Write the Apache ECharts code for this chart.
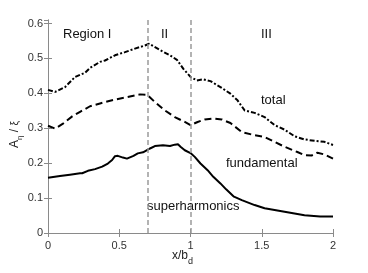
<!DOCTYPE html>
<html><head><meta charset="utf-8">
<script src="https://cdn.jsdelivr.net/npm/echarts@6/dist/echarts.min.js"></script>
<style>html,body{margin:0;padding:0;background:#fff}#c{width:368px;height:273px}</style>
</head><body><div id="c"></div>
<script>
var totalX = [0,0.05,0.12,0.19,0.26,0.295,0.365,0.4,0.47,0.54,0.61,0.68,0.71,0.79,0.856,0.905,0.95,1.0,1.045,1.09,1.14,1.21,1.28,1.33,1.38,1.45,1.52,1.59,1.66,1.73,1.80,1.87,1.94,2.0];
var totalY = [0.41,0.404,0.418,0.447,0.459,0.473,0.49,0.494,0.509,0.518,0.528,0.537,0.542,0.523,0.509,0.496,0.47,0.447,0.437,0.44,0.435,0.418,0.399,0.38,0.351,0.344,0.332,0.309,0.296,0.277,0.268,0.264,0.261,0.252];
var fundX = [0,0.05,0.105,0.17,0.225,0.295,0.365,0.4,0.47,0.54,0.61,0.646,0.695,0.75,0.82,0.89,0.96,1.0,1.05,1.10,1.16,1.22,1.28,1.36,1.45,1.52,1.59,1.66,1.75,1.80,1.85,1.89,1.94,2.0];
var fundY = [0.307,0.299,0.313,0.334,0.347,0.363,0.371,0.375,0.382,0.388,0.394,0.397,0.396,0.375,0.351,0.332,0.318,0.309,0.318,0.325,0.328,0.325,0.315,0.289,0.28,0.275,0.261,0.247,0.232,0.223,0.222,0.23,0.225,0.213];
var superX = [0,0.084,0.154,0.225,0.24,0.28,0.33,0.38,0.42,0.45,0.47,0.49,0.526,0.554,0.6,0.63,0.667,0.68,0.716,0.75,0.807,0.856,0.89,0.912,0.93,0.96,1.0,1.03,1.07,1.12,1.16,1.21,1.25,1.305,1.36,1.45,1.52,1.66,1.8,1.91,2.0];
var superY = [0.158,0.163,0.167,0.171,0.171,0.178,0.183,0.19,0.199,0.209,0.22,0.221,0.216,0.213,0.221,0.228,0.231,0.232,0.242,0.249,0.251,0.249,0.253,0.254,0.247,0.237,0.229,0.218,0.199,0.18,0.161,0.142,0.125,0.104,0.094,0.08,0.071,0.061,0.051,0.047,0.047];
var regionLines = [0.7, 1.0];
var xTicks = [0, 0.5, 1, 1.5, 2];
var yTicks = [0, 0.1, 0.2, 0.3, 0.4, 0.5, 0.6];

function zip(a, b) { return a.map(function (v, i) { return [v, b[i]]; }); }
var axisGray = '#8a8a8a';
var font = 'Liberation Sans, Arial, sans-serif';
function fmt(v) { var r = Math.round(v * 10) / 10; return String(r); }

var chart = echarts.init(document.getElementById('c'));
chart.setOption({
  animation: false,
  backgroundColor: '#fff',
  grid: { left: 48, right: 35, top: 20, bottom: 40 },
  xAxis: [{
    type: 'value', min: 0, max: 2, interval: 0.5,
    axisLine: { lineStyle: { color: axisGray, width: 1 } },
    axisTick: { inside: true, length: 4, lineStyle: { color: axisGray } },
    axisLabel: { color: '#333', fontSize: 11, fontFamily: font, margin: 7, formatter: fmt },
    splitLine: { show: false }
  }, {
    type: 'value', min: 0, max: 2, interval: 0.5, position: 'top',
    axisLine: { show: true, lineStyle: { color: axisGray, width: 1 } },
    axisTick: { show: true, inside: true, length: 4, lineStyle: { color: axisGray } },
    axisLabel: { show: false }, splitLine: { show: false }
  }],
  yAxis: [{
    type: 'value', min: 0, max: 0.61, interval: 0.1,
    axisLine: { show: true, lineStyle: { color: axisGray, width: 1 } },
    axisTick: { show: true, inside: true, length: 4, lineStyle: { color: axisGray } },
    axisLabel: { color: '#333', fontSize: 11, fontFamily: font, margin: 5, formatter: fmt, showMaxLabel: false },
    splitLine: { show: false }
  }, {
    type: 'value', min: 0, max: 0.61, interval: 0.1, position: 'right',
    axisLine: { show: true, lineStyle: { color: axisGray, width: 1 } },
    axisTick: { show: true, inside: true, length: 4, lineStyle: { color: axisGray } },
    axisLabel: { show: false }, splitLine: { show: false }
  }],
  series: [{
    type: 'line', data: zip(totalX, totalY), showSymbol: false, smooth: false,
    lineStyle: { color: '#000', width: 2, type: [5, 2, 2, 2] },
    markLine: {
      silent: true, symbol: ['none', 'none'], label: { show: false },
      lineStyle: { color: '#9a9a9a', type: [5, 3], width: 1.5 },
      data: regionLines.map(function (v) { return { xAxis: v }; })
    }
  }, {
    type: 'line', data: zip(fundX, fundY), showSymbol: false,
    lineStyle: { color: '#000', width: 2, type: [7, 4] }
  }, {
    type: 'line', data: zip(superX, superY), showSymbol: false,
    lineStyle: { color: '#000', width: 2, type: 'solid' }
  }],
  graphic: [
    { type: 'text', left: 63, top: 28, style: { text: 'Region I', fontSize: 13, fontFamily: font, fill: '#111' } },
    { type: 'text', left: 161, top: 28, style: { text: 'II', fontSize: 13, fontFamily: font, fill: '#111' } },
    { type: 'text', left: 261, top: 28, style: { text: 'III', fontSize: 13, fontFamily: font, fill: '#111' } },
    { type: 'text', left: 261, top: 94, style: { text: 'total', fontSize: 13, fontFamily: font, fill: '#111' } },
    { type: 'text', left: 226, top: 157, style: { text: 'fundamental', fontSize: 13, fontFamily: font, fill: '#111' } },
    { type: 'text', left: 147, top: 200, style: { text: 'superharmonics', fontSize: 13, fontFamily: font, fill: '#111' } },
    { type: 'text', x: 172, y: 250, style: {
        text: '{a|x/b}{s|d}', fontFamily: font, fill: '#222',
        rich: { a: { fontSize: 12, fontFamily: font, fill: '#222', verticalAlign: 'top' },
                s: { fontSize: 9, fontFamily: font, fill: '#222', padding: [7, 0, 0, 0], verticalAlign: 'top' } } } },
    { type: 'text', x: 9, y: 148, rotation: Math.PI / 2, style: {
        text: '{a|A}{s|η}{a| / }{b|ξ}', fontFamily: font, fill: '#222',
        rich: { a: { fontSize: 12, fontFamily: font, fill: '#222', verticalAlign: 'top' },
                s: { fontSize: 8, fontFamily: font, fill: '#222', padding: [7, 0, 0, 0], verticalAlign: 'top' },
                b: { fontSize: 10, fontFamily: font, fill: '#222', verticalAlign: 'top', padding: [1, 0, 0, 0] } } } }
  ]
});
</script></body></html>
